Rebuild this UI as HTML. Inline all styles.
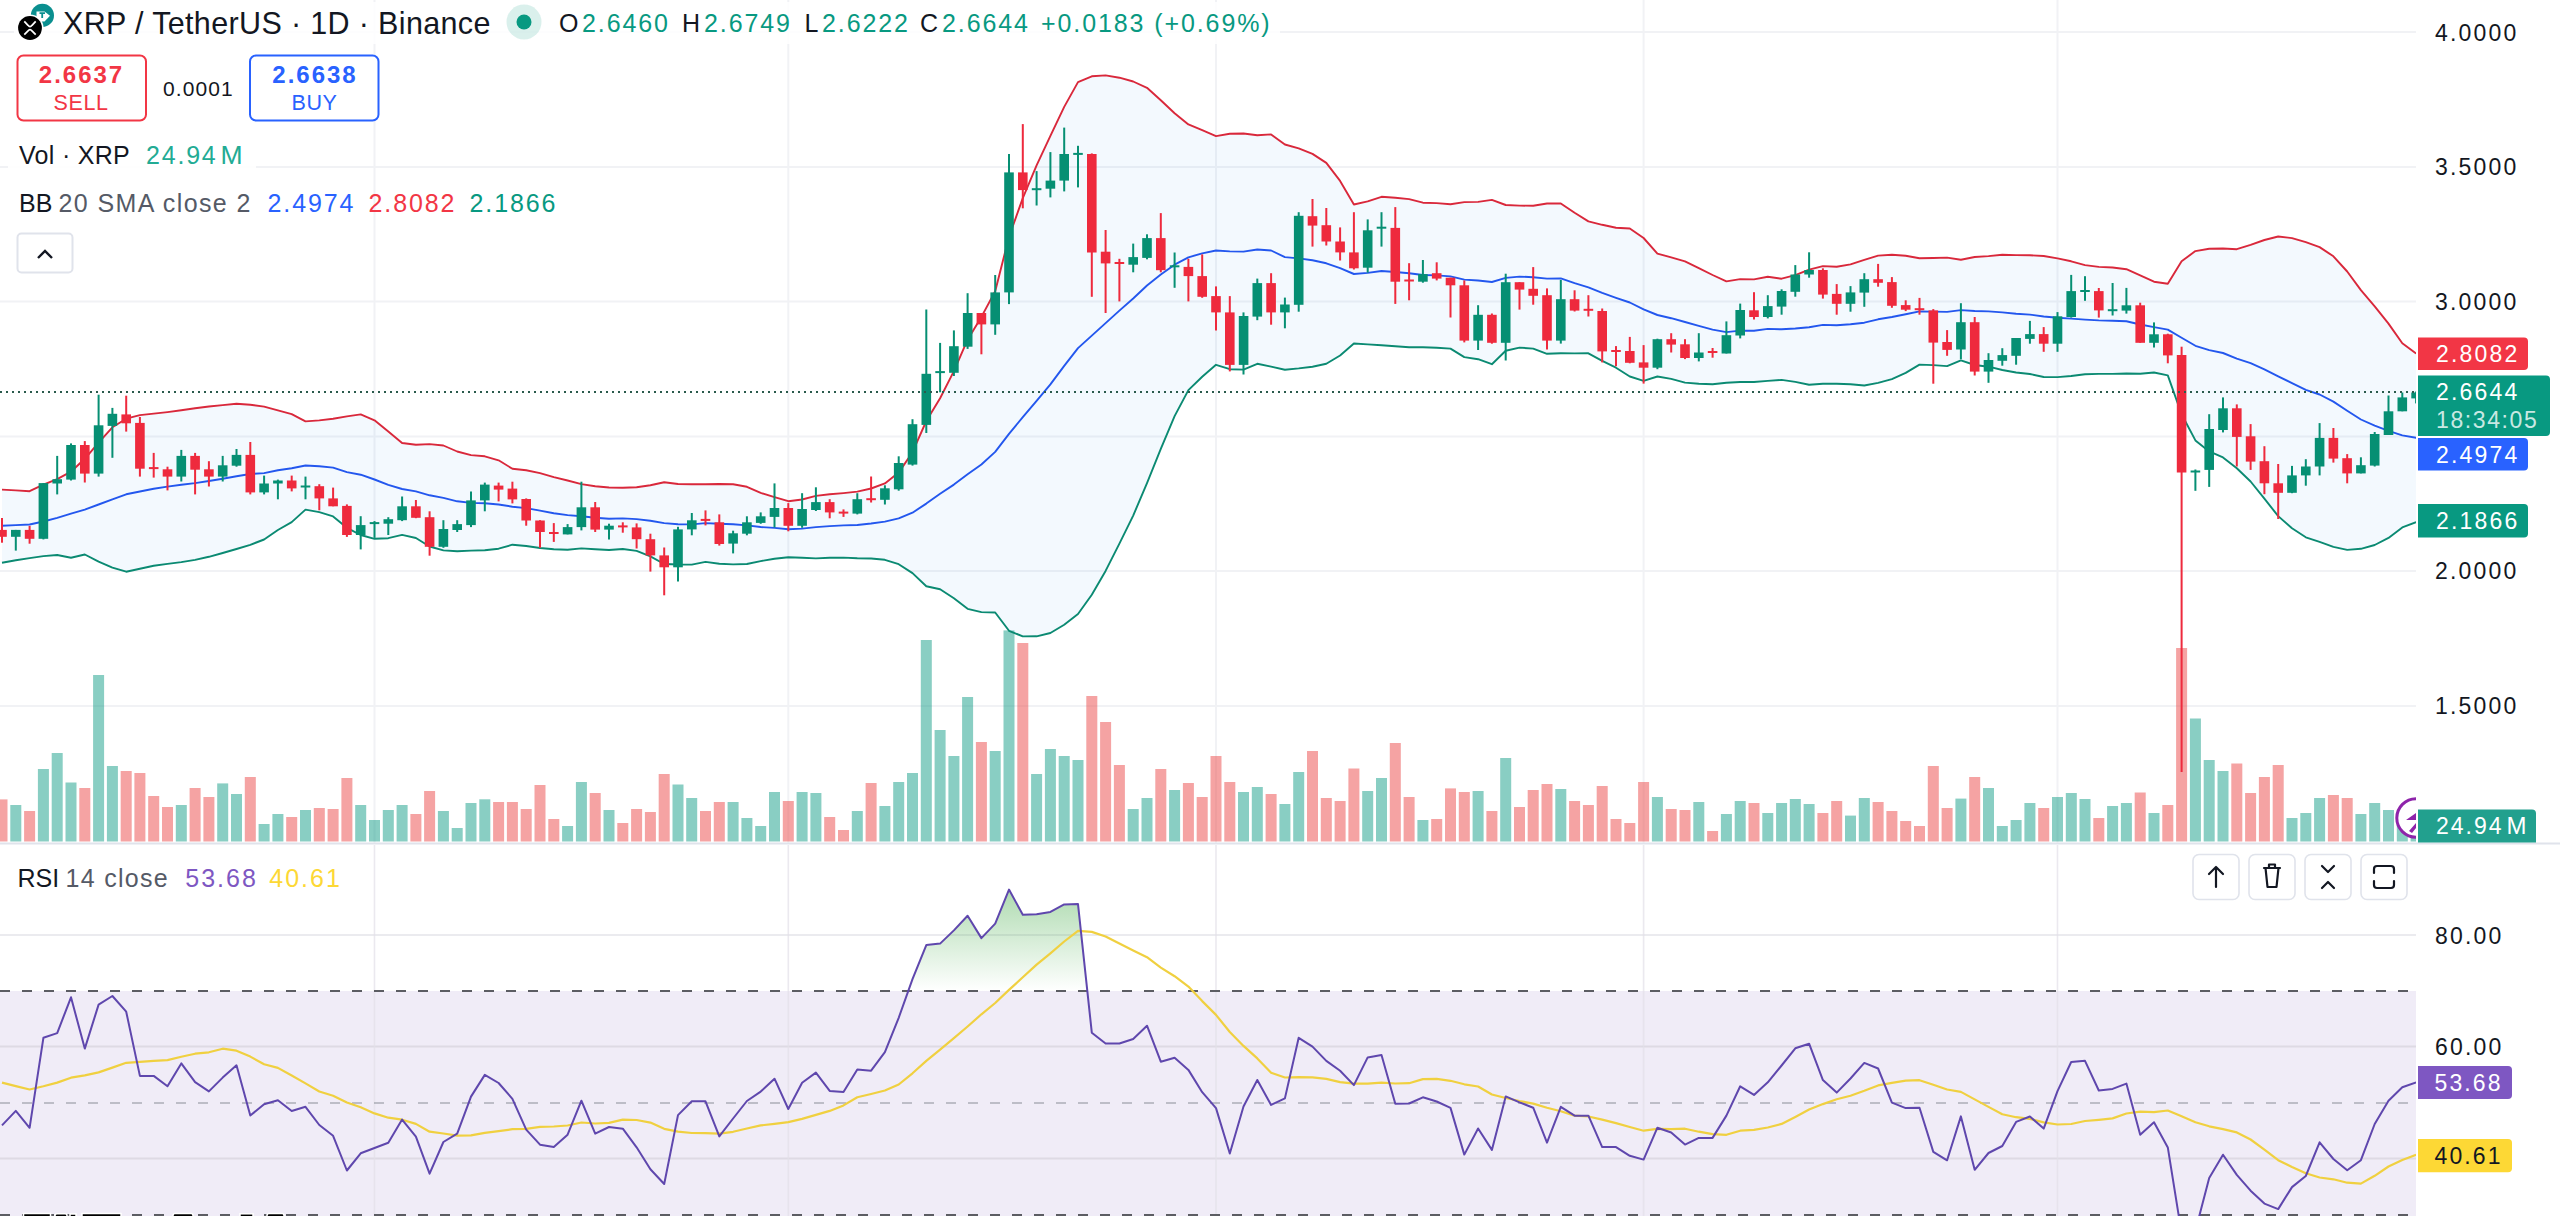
<!DOCTYPE html>
<html><head><meta charset="utf-8">
<style>
html,body{margin:0;padding:0;background:#fff;}
body{width:2560px;height:1216px;overflow:hidden;position:relative;font-family:"Liberation Sans",sans-serif;}
svg{position:absolute;left:0;top:0;font-family:"Liberation Sans",sans-serif;}
</style></head><body>
<svg width="2560" height="1216" viewBox="0 0 2560 1216">
<defs><clipPath id="mc"><rect x="0" y="0" width="2416" height="843"/></clipPath></defs>
<g clip-path="url(#mc)">
<line x1="0" y1="32" x2="2416" y2="32" stroke="#f1f2f5" stroke-width="2"/>
<line x1="0" y1="167" x2="2416" y2="167" stroke="#f1f2f5" stroke-width="2"/>
<line x1="0" y1="301.5" x2="2416" y2="301.5" stroke="#f1f2f5" stroke-width="2"/>
<line x1="0" y1="436.5" x2="2416" y2="436.5" stroke="#f1f2f5" stroke-width="2"/>
<line x1="0" y1="571" x2="2416" y2="571" stroke="#f1f2f5" stroke-width="2"/>
<line x1="0" y1="706" x2="2416" y2="706" stroke="#f1f2f5" stroke-width="2"/>
<line x1="374.5" y1="0" x2="374.5" y2="843" stroke="#f1f2f5" stroke-width="2"/>
<line x1="788.3" y1="0" x2="788.3" y2="843" stroke="#f1f2f5" stroke-width="2"/>
<line x1="1216" y1="0" x2="1216" y2="843" stroke="#f1f2f5" stroke-width="2"/>
<line x1="1643.6" y1="0" x2="1643.6" y2="843" stroke="#f1f2f5" stroke-width="2"/>
<line x1="2057.5" y1="0" x2="2057.5" y2="843" stroke="#f1f2f5" stroke-width="2"/>
<g><rect x="-3.5" y="799.4" width="11" height="42.1" fill="rgba(236,72,72,0.5)"/><rect x="10.3" y="805" width="11" height="36.5" fill="rgba(8,153,129,0.48)"/><rect x="24.1" y="811" width="11" height="30.5" fill="rgba(236,72,72,0.5)"/><rect x="37.9" y="769" width="11" height="72.5" fill="rgba(8,153,129,0.48)"/><rect x="51.7" y="753" width="11" height="88.5" fill="rgba(8,153,129,0.48)"/><rect x="65.5" y="782.5" width="11" height="59" fill="rgba(8,153,129,0.48)"/><rect x="79.3" y="788" width="11" height="53.5" fill="rgba(236,72,72,0.5)"/><rect x="93.1" y="675" width="11" height="166.5" fill="rgba(8,153,129,0.48)"/><rect x="106.9" y="766" width="11" height="75.5" fill="rgba(8,153,129,0.48)"/><rect x="120.7" y="771" width="11" height="70.5" fill="rgba(236,72,72,0.5)"/><rect x="134.4" y="773" width="11" height="68.5" fill="rgba(236,72,72,0.5)"/><rect x="148.2" y="796" width="11" height="45.5" fill="rgba(236,72,72,0.5)"/><rect x="162" y="807" width="11" height="34.5" fill="rgba(236,72,72,0.5)"/><rect x="175.8" y="805" width="11" height="36.5" fill="rgba(8,153,129,0.48)"/><rect x="189.6" y="788" width="11" height="53.5" fill="rgba(236,72,72,0.5)"/><rect x="203.4" y="797" width="11" height="44.5" fill="rgba(236,72,72,0.5)"/><rect x="217.2" y="783.4" width="11" height="58.1" fill="rgba(8,153,129,0.48)"/><rect x="231" y="794" width="11" height="47.5" fill="rgba(8,153,129,0.48)"/><rect x="244.8" y="777" width="11" height="64.5" fill="rgba(236,72,72,0.5)"/><rect x="258.6" y="824" width="11" height="17.5" fill="rgba(8,153,129,0.48)"/><rect x="272.4" y="814" width="11" height="27.5" fill="rgba(8,153,129,0.48)"/><rect x="286.2" y="817" width="11" height="24.5" fill="rgba(236,72,72,0.5)"/><rect x="300" y="810" width="11" height="31.5" fill="rgba(8,153,129,0.48)"/><rect x="313.8" y="808" width="11" height="33.5" fill="rgba(236,72,72,0.5)"/><rect x="327.6" y="809" width="11" height="32.5" fill="rgba(236,72,72,0.5)"/><rect x="341.4" y="778" width="11" height="63.5" fill="rgba(236,72,72,0.5)"/><rect x="355.2" y="805" width="11" height="36.5" fill="rgba(8,153,129,0.48)"/><rect x="369" y="820" width="11" height="21.5" fill="rgba(8,153,129,0.48)"/><rect x="382.8" y="810" width="11" height="31.5" fill="rgba(8,153,129,0.48)"/><rect x="396.6" y="805" width="11" height="36.5" fill="rgba(8,153,129,0.48)"/><rect x="410.4" y="814" width="11" height="27.5" fill="rgba(236,72,72,0.5)"/><rect x="424.1" y="791" width="11" height="50.5" fill="rgba(236,72,72,0.5)"/><rect x="437.9" y="811" width="11" height="30.5" fill="rgba(8,153,129,0.48)"/><rect x="451.7" y="828" width="11" height="13.5" fill="rgba(8,153,129,0.48)"/><rect x="465.5" y="803" width="11" height="38.5" fill="rgba(8,153,129,0.48)"/><rect x="479.3" y="799.3" width="11" height="42.2" fill="rgba(8,153,129,0.48)"/><rect x="493.1" y="802" width="11" height="39.5" fill="rgba(236,72,72,0.5)"/><rect x="506.9" y="802" width="11" height="39.5" fill="rgba(236,72,72,0.5)"/><rect x="520.7" y="809" width="11" height="32.5" fill="rgba(236,72,72,0.5)"/><rect x="534.5" y="785" width="11" height="56.5" fill="rgba(236,72,72,0.5)"/><rect x="548.3" y="819" width="11" height="22.5" fill="rgba(236,72,72,0.5)"/><rect x="562.1" y="826" width="11" height="15.5" fill="rgba(8,153,129,0.48)"/><rect x="575.9" y="782" width="11" height="59.5" fill="rgba(8,153,129,0.48)"/><rect x="589.7" y="793" width="11" height="48.5" fill="rgba(236,72,72,0.5)"/><rect x="603.5" y="810" width="11" height="31.5" fill="rgba(8,153,129,0.48)"/><rect x="617.3" y="823" width="11" height="18.5" fill="rgba(236,72,72,0.5)"/><rect x="631.1" y="809" width="11" height="32.5" fill="rgba(236,72,72,0.5)"/><rect x="644.9" y="812" width="11" height="29.5" fill="rgba(236,72,72,0.5)"/><rect x="658.7" y="774" width="11" height="67.5" fill="rgba(236,72,72,0.5)"/><rect x="672.5" y="784.5" width="11" height="57" fill="rgba(8,153,129,0.48)"/><rect x="686.2" y="798" width="11" height="43.5" fill="rgba(8,153,129,0.48)"/><rect x="700" y="811" width="11" height="30.5" fill="rgba(236,72,72,0.5)"/><rect x="713.8" y="802" width="11" height="39.5" fill="rgba(236,72,72,0.5)"/><rect x="727.6" y="802" width="11" height="39.5" fill="rgba(8,153,129,0.48)"/><rect x="741.4" y="818" width="11" height="23.5" fill="rgba(8,153,129,0.48)"/><rect x="755.2" y="826" width="11" height="15.5" fill="rgba(8,153,129,0.48)"/><rect x="769" y="792" width="11" height="49.5" fill="rgba(8,153,129,0.48)"/><rect x="782.8" y="801" width="11" height="40.5" fill="rgba(236,72,72,0.5)"/><rect x="796.6" y="792" width="11" height="49.5" fill="rgba(8,153,129,0.48)"/><rect x="810.4" y="793" width="11" height="48.5" fill="rgba(8,153,129,0.48)"/><rect x="824.2" y="817" width="11" height="24.5" fill="rgba(236,72,72,0.5)"/><rect x="838" y="830" width="11" height="11.5" fill="rgba(236,72,72,0.5)"/><rect x="851.8" y="811" width="11" height="30.5" fill="rgba(8,153,129,0.48)"/><rect x="865.6" y="783" width="11" height="58.5" fill="rgba(236,72,72,0.5)"/><rect x="879.4" y="806" width="11" height="35.5" fill="rgba(8,153,129,0.48)"/><rect x="893.2" y="782" width="11" height="59.5" fill="rgba(8,153,129,0.48)"/><rect x="907" y="773" width="11" height="68.5" fill="rgba(8,153,129,0.48)"/><rect x="920.8" y="640" width="11" height="201.5" fill="rgba(8,153,129,0.48)"/><rect x="934.6" y="730" width="11" height="111.5" fill="rgba(8,153,129,0.48)"/><rect x="948.4" y="756" width="11" height="85.5" fill="rgba(8,153,129,0.48)"/><rect x="962.1" y="697" width="11" height="144.5" fill="rgba(8,153,129,0.48)"/><rect x="975.9" y="742" width="11" height="99.5" fill="rgba(236,72,72,0.5)"/><rect x="989.7" y="751" width="11" height="90.5" fill="rgba(8,153,129,0.48)"/><rect x="1003.5" y="630.4" width="11" height="211.1" fill="rgba(8,153,129,0.48)"/><rect x="1017.3" y="643" width="11" height="198.5" fill="rgba(236,72,72,0.5)"/><rect x="1031.1" y="774" width="11" height="67.5" fill="rgba(8,153,129,0.48)"/><rect x="1044.9" y="749" width="11" height="92.5" fill="rgba(8,153,129,0.48)"/><rect x="1058.7" y="756" width="11" height="85.5" fill="rgba(8,153,129,0.48)"/><rect x="1072.5" y="760" width="11" height="81.5" fill="rgba(8,153,129,0.48)"/><rect x="1086.3" y="696" width="11" height="145.5" fill="rgba(236,72,72,0.5)"/><rect x="1100.1" y="722" width="11" height="119.5" fill="rgba(236,72,72,0.5)"/><rect x="1113.9" y="765" width="11" height="76.5" fill="rgba(236,72,72,0.5)"/><rect x="1127.7" y="809" width="11" height="32.5" fill="rgba(8,153,129,0.48)"/><rect x="1141.5" y="798" width="11" height="43.5" fill="rgba(8,153,129,0.48)"/><rect x="1155.3" y="769" width="11" height="72.5" fill="rgba(236,72,72,0.5)"/><rect x="1169.1" y="790" width="11" height="51.5" fill="rgba(8,153,129,0.48)"/><rect x="1182.9" y="783" width="11" height="58.5" fill="rgba(236,72,72,0.5)"/><rect x="1196.7" y="797" width="11" height="44.5" fill="rgba(236,72,72,0.5)"/><rect x="1210.5" y="756" width="11" height="85.5" fill="rgba(236,72,72,0.5)"/><rect x="1224.3" y="782" width="11" height="59.5" fill="rgba(236,72,72,0.5)"/><rect x="1238" y="792" width="11" height="49.5" fill="rgba(8,153,129,0.48)"/><rect x="1251.8" y="787" width="11" height="54.5" fill="rgba(8,153,129,0.48)"/><rect x="1265.6" y="794" width="11" height="47.5" fill="rgba(236,72,72,0.5)"/><rect x="1279.4" y="804" width="11" height="37.5" fill="rgba(8,153,129,0.48)"/><rect x="1293.2" y="772" width="11" height="69.5" fill="rgba(8,153,129,0.48)"/><rect x="1307" y="751" width="11" height="90.5" fill="rgba(236,72,72,0.5)"/><rect x="1320.8" y="798" width="11" height="43.5" fill="rgba(236,72,72,0.5)"/><rect x="1334.6" y="801" width="11" height="40.5" fill="rgba(236,72,72,0.5)"/><rect x="1348.4" y="768.5" width="11" height="73" fill="rgba(236,72,72,0.5)"/><rect x="1362.2" y="791" width="11" height="50.5" fill="rgba(8,153,129,0.48)"/><rect x="1376" y="778" width="11" height="63.5" fill="rgba(8,153,129,0.48)"/><rect x="1389.8" y="743" width="11" height="98.5" fill="rgba(236,72,72,0.5)"/><rect x="1403.6" y="797" width="11" height="44.5" fill="rgba(236,72,72,0.5)"/><rect x="1417.4" y="820" width="11" height="21.5" fill="rgba(8,153,129,0.48)"/><rect x="1431.2" y="819" width="11" height="22.5" fill="rgba(236,72,72,0.5)"/><rect x="1445" y="788.4" width="11" height="53.1" fill="rgba(236,72,72,0.5)"/><rect x="1458.8" y="792" width="11" height="49.5" fill="rgba(236,72,72,0.5)"/><rect x="1472.6" y="791" width="11" height="50.5" fill="rgba(8,153,129,0.48)"/><rect x="1486.4" y="811" width="11" height="30.5" fill="rgba(236,72,72,0.5)"/><rect x="1500.2" y="758" width="11" height="83.5" fill="rgba(8,153,129,0.48)"/><rect x="1514" y="807" width="11" height="34.5" fill="rgba(236,72,72,0.5)"/><rect x="1527.7" y="790" width="11" height="51.5" fill="rgba(236,72,72,0.5)"/><rect x="1541.5" y="784" width="11" height="57.5" fill="rgba(236,72,72,0.5)"/><rect x="1555.3" y="789" width="11" height="52.5" fill="rgba(8,153,129,0.48)"/><rect x="1569.1" y="801" width="11" height="40.5" fill="rgba(236,72,72,0.5)"/><rect x="1582.9" y="805" width="11" height="36.5" fill="rgba(236,72,72,0.5)"/><rect x="1596.7" y="786" width="11" height="55.5" fill="rgba(236,72,72,0.5)"/><rect x="1610.5" y="819" width="11" height="22.5" fill="rgba(236,72,72,0.5)"/><rect x="1624.3" y="823" width="11" height="18.5" fill="rgba(236,72,72,0.5)"/><rect x="1638.1" y="782" width="11" height="59.5" fill="rgba(236,72,72,0.5)"/><rect x="1651.9" y="797" width="11" height="44.5" fill="rgba(8,153,129,0.48)"/><rect x="1665.7" y="809" width="11" height="32.5" fill="rgba(236,72,72,0.5)"/><rect x="1679.5" y="810" width="11" height="31.5" fill="rgba(236,72,72,0.5)"/><rect x="1693.3" y="802" width="11" height="39.5" fill="rgba(8,153,129,0.48)"/><rect x="1707.1" y="831" width="11" height="10.5" fill="rgba(236,72,72,0.5)"/><rect x="1720.9" y="814" width="11" height="27.5" fill="rgba(8,153,129,0.48)"/><rect x="1734.7" y="801" width="11" height="40.5" fill="rgba(8,153,129,0.48)"/><rect x="1748.5" y="803" width="11" height="38.5" fill="rgba(236,72,72,0.5)"/><rect x="1762.3" y="813" width="11" height="28.5" fill="rgba(8,153,129,0.48)"/><rect x="1776.1" y="803" width="11" height="38.5" fill="rgba(8,153,129,0.48)"/><rect x="1789.8" y="799" width="11" height="42.5" fill="rgba(8,153,129,0.48)"/><rect x="1803.6" y="804" width="11" height="37.5" fill="rgba(8,153,129,0.48)"/><rect x="1817.4" y="813" width="11" height="28.5" fill="rgba(236,72,72,0.5)"/><rect x="1831.2" y="801" width="11" height="40.5" fill="rgba(236,72,72,0.5)"/><rect x="1845" y="815.6" width="11" height="25.9" fill="rgba(8,153,129,0.48)"/><rect x="1858.8" y="798" width="11" height="43.5" fill="rgba(8,153,129,0.48)"/><rect x="1872.6" y="802" width="11" height="39.5" fill="rgba(236,72,72,0.5)"/><rect x="1886.4" y="811" width="11" height="30.5" fill="rgba(236,72,72,0.5)"/><rect x="1900.2" y="821" width="11" height="20.5" fill="rgba(236,72,72,0.5)"/><rect x="1914" y="826" width="11" height="15.5" fill="rgba(236,72,72,0.5)"/><rect x="1927.8" y="766" width="11" height="75.5" fill="rgba(236,72,72,0.5)"/><rect x="1941.6" y="808" width="11" height="33.5" fill="rgba(236,72,72,0.5)"/><rect x="1955.4" y="798.6" width="11" height="42.9" fill="rgba(8,153,129,0.48)"/><rect x="1969.2" y="777" width="11" height="64.5" fill="rgba(236,72,72,0.5)"/><rect x="1983" y="788" width="11" height="53.5" fill="rgba(8,153,129,0.48)"/><rect x="1996.8" y="826" width="11" height="15.5" fill="rgba(8,153,129,0.48)"/><rect x="2010.6" y="820" width="11" height="21.5" fill="rgba(8,153,129,0.48)"/><rect x="2024.4" y="803" width="11" height="38.5" fill="rgba(8,153,129,0.48)"/><rect x="2038.2" y="808" width="11" height="33.5" fill="rgba(236,72,72,0.5)"/><rect x="2052" y="797" width="11" height="44.5" fill="rgba(8,153,129,0.48)"/><rect x="2065.8" y="793" width="11" height="48.5" fill="rgba(8,153,129,0.48)"/><rect x="2079.5" y="799" width="11" height="42.5" fill="rgba(8,153,129,0.48)"/><rect x="2093.3" y="818" width="11" height="23.5" fill="rgba(236,72,72,0.5)"/><rect x="2107.1" y="806" width="11" height="35.5" fill="rgba(8,153,129,0.48)"/><rect x="2120.9" y="803" width="11" height="38.5" fill="rgba(8,153,129,0.48)"/><rect x="2134.7" y="792.5" width="11" height="49" fill="rgba(236,72,72,0.5)"/><rect x="2148.5" y="813" width="11" height="28.5" fill="rgba(8,153,129,0.48)"/><rect x="2162.3" y="805" width="11" height="36.5" fill="rgba(236,72,72,0.5)"/><rect x="2176.1" y="648" width="11" height="193.5" fill="rgba(236,72,72,0.5)"/><rect x="2189.9" y="718.5" width="11" height="123" fill="rgba(8,153,129,0.48)"/><rect x="2203.7" y="760" width="11" height="81.5" fill="rgba(8,153,129,0.48)"/><rect x="2217.5" y="771" width="11" height="70.5" fill="rgba(8,153,129,0.48)"/><rect x="2231.3" y="763.5" width="11" height="78" fill="rgba(236,72,72,0.5)"/><rect x="2245.1" y="793" width="11" height="48.5" fill="rgba(236,72,72,0.5)"/><rect x="2258.9" y="777" width="11" height="64.5" fill="rgba(236,72,72,0.5)"/><rect x="2272.7" y="765" width="11" height="76.5" fill="rgba(236,72,72,0.5)"/><rect x="2286.5" y="818" width="11" height="23.5" fill="rgba(8,153,129,0.48)"/><rect x="2300.3" y="813" width="11" height="28.5" fill="rgba(8,153,129,0.48)"/><rect x="2314.1" y="798" width="11" height="43.5" fill="rgba(8,153,129,0.48)"/><rect x="2327.9" y="795" width="11" height="46.5" fill="rgba(236,72,72,0.5)"/><rect x="2341.7" y="798" width="11" height="43.5" fill="rgba(236,72,72,0.5)"/><rect x="2355.4" y="814" width="11" height="27.5" fill="rgba(8,153,129,0.48)"/><rect x="2369.2" y="803" width="11" height="38.5" fill="rgba(8,153,129,0.48)"/><rect x="2383" y="810" width="11" height="31.5" fill="rgba(8,153,129,0.48)"/><rect x="2396.8" y="822" width="11" height="19.5" fill="rgba(8,153,129,0.48)"/><rect x="2410.6" y="815" width="11" height="26.5" fill="rgba(8,153,129,0.48)"/></g>
<polygon points="2,489.6 15.8,490.4 29.6,491.2 43.4,484.6 57.2,479.1 71,471.7 84.8,458.8 98.6,442.7 112.4,427.3 126.2,418.7 139.9,415.1 153.7,413.6 167.5,412.1 181.3,410.3 195.1,408.2 208.9,406.5 222.7,405.1 236.5,403.8 250.3,404.7 264.1,406.6 277.9,410.4 291.7,414.2 305.5,421.4 319.3,420.4 333.1,418.8 346.9,416.4 360.7,414.4 374.5,420.3 388.3,431.5 402.1,443 415.9,444.8 429.6,444.1 443.4,445.5 457.2,451.5 471,455.1 484.8,456.3 498.6,460.3 512.4,468.7 526.2,470.3 540,473.1 553.8,477.2 567.6,480.5 581.4,484.1 595.2,486.3 609,487.5 622.8,487.7 636.6,487.2 650.4,485.2 664.2,482.2 678,484 691.8,484.2 705.5,484.2 719.3,484 733.1,484.2 746.9,486.8 760.7,492.9 774.5,497.1 788.3,501.2 802.1,499.5 815.9,495.9 829.7,494.3 843.5,493.1 857.3,491.6 871.1,488.5 884.9,483.4 898.7,472.6 912.5,452.2 926.3,421 940.1,398.2 953.9,371.1 967.6,339.7 981.4,316.9 995.2,291.2 1009,236.8 1022.8,198.1 1036.6,165.3 1050.4,135.9 1064.2,106.9 1078,82.1 1091.8,76.3 1105.6,75.4 1119.4,77.7 1133.2,81.5 1147,87.8 1160.8,100.2 1174.6,113.2 1188.4,124.4 1202.2,130.2 1216,136.1 1229.8,133.7 1243.5,133.5 1257.3,135.2 1271.1,134.4 1284.9,144.5 1298.7,148.4 1312.5,153.9 1326.3,162.9 1340.1,180.9 1353.9,204.5 1367.7,201.4 1381.5,196.8 1395.3,197.7 1409.1,199.1 1422.9,202.7 1436.7,203.1 1450.5,204.2 1464.3,202.1 1478.1,201.9 1491.9,199.9 1505.7,205 1519.5,205.6 1533.2,205.8 1547,203.5 1560.8,203.5 1574.6,212.8 1588.4,221.4 1602.2,224.8 1616,227.8 1629.8,228.5 1643.6,238 1657.4,253.6 1671.2,257.4 1685,261.4 1698.8,268.1 1712.6,275 1726.4,281.4 1740.2,279.1 1754,279.4 1767.8,276.8 1781.6,278.7 1795.3,275.2 1809.1,269.7 1822.9,266.1 1836.7,266.7 1850.5,264.4 1864.3,259.9 1878.1,255.6 1891.9,254.8 1905.7,255.8 1919.5,258.2 1933.3,258 1947.1,257.6 1960.9,259.8 1974.7,257 1988.5,256.1 2002.3,254.8 2016.1,255.1 2029.9,255.3 2043.7,256 2057.5,258.4 2071.2,261.3 2085,265.1 2098.8,266.9 2112.6,267.5 2126.4,269.2 2140.2,275.4 2154,281.7 2167.8,283.7 2181.6,261.2 2195.4,251.1 2209.2,248.7 2223,248.5 2236.8,249.2 2250.6,244.9 2264.4,240 2278.2,236.5 2292,238.1 2305.8,242.2 2319.6,247.1 2333.4,256.3 2347.2,271.5 2360.9,290.1 2374.7,306.3 2388.5,323.6 2402.3,343.3 2416.1,353.6 2416.1,522.1 2402.3,527.4 2388.5,537.9 2374.7,545 2360.9,548.8 2347.2,549.9 2333.4,546.9 2319.6,541.8 2305.8,537.3 2292,528.2 2278.2,516.1 2264.4,498.7 2250.6,481.5 2236.8,468.3 2223,457.4 2209.2,451.4 2195.4,440.4 2181.6,414.2 2167.8,375.4 2154,372.5 2140.2,373.7 2126.4,373.5 2112.6,373.9 2098.8,373.9 2085,374.2 2071.2,376 2057.5,377.1 2043.7,377 2029.9,374 2016.1,372.5 2002.3,370 1988.5,366.7 1974.7,365 1960.9,360.3 1947.1,366.1 1933.3,365.1 1919.5,364.6 1905.7,372.9 1891.9,379.1 1878.1,382.9 1864.3,385.5 1850.5,384.2 1836.7,383.7 1822.9,383.8 1809.1,384.8 1795.3,381.9 1781.6,379.9 1767.8,380.9 1754,382 1740.2,382 1726.4,382.8 1712.6,384.2 1698.8,383.7 1685,382.6 1671.2,378.9 1657.4,376.5 1643.6,380.8 1629.8,376.5 1616,367.7 1602.2,360.9 1588.4,353.3 1574.6,353.4 1560.8,353.2 1547,353.8 1533.2,348.6 1519.5,347.6 1505.7,350.8 1491.9,364.2 1478.1,359.2 1464.3,357.1 1450.5,348.6 1436.7,347.7 1422.9,347.3 1409.1,347.2 1395.3,346.2 1381.5,345.3 1367.7,344.4 1353.9,343.5 1340.1,355.5 1326.3,363.7 1312.5,366.7 1298.7,368.4 1284.9,369.7 1271.1,366.6 1257.3,363.8 1243.5,369.6 1229.8,369.2 1216,364.8 1202.2,376.7 1188.4,390.1 1174.6,416.1 1160.8,448.9 1147,483.1 1133.2,515.6 1119.4,543.6 1105.6,570.9 1091.8,594.8 1078,614 1064.2,624.8 1050.4,633 1036.6,636.3 1022.8,636.4 1009,630.8 995.2,612.5 981.4,612.1 967.6,608.8 953.9,598.2 940.1,589.3 926.3,586.2 912.5,573.1 898.7,564.2 884.9,559.8 871.1,558.5 857.3,558.3 843.5,557.6 829.7,557.8 815.9,558.4 802.1,557.8 788.3,557.2 774.5,558.7 760.7,561.1 746.9,564 733.1,564.4 719.3,563.7 705.5,561.9 691.8,564.6 678,564.5 664.2,564 650.4,556.3 636.6,550.9 622.8,549 609,550 595.2,549.3 581.4,548.4 567.6,549.8 553.8,549.3 540,548 526.2,546 512.4,544.7 498.6,548.7 484.8,550.3 471,550.6 457.2,551.2 443.4,550.4 429.6,546.5 415.9,538 402.1,534.9 388.3,538.2 374.5,538.8 360.7,535 346.9,527.8 333.1,516.4 319.3,512.1 305.5,509.6 291.7,522.1 277.9,530 264.1,539.5 250.3,544.8 236.5,549 222.7,553 208.9,556.8 195.1,559.9 181.3,562.1 167.5,563.9 153.7,565.8 139.9,568.8 126.2,571.7 112.4,567.6 98.6,561.7 84.8,554.5 71,557.7 57.2,555 43.4,556.1 29.6,558.1 15.8,560.3 2,562.7" fill="#2196f3" fill-opacity="0.055"/>
<polyline points="2,489.6 15.8,490.4 29.6,491.2 43.4,484.6 57.2,479.1 71,471.7 84.8,458.8 98.6,442.7 112.4,427.3 126.2,418.7 139.9,415.1 153.7,413.6 167.5,412.1 181.3,410.3 195.1,408.2 208.9,406.5 222.7,405.1 236.5,403.8 250.3,404.7 264.1,406.6 277.9,410.4 291.7,414.2 305.5,421.4 319.3,420.4 333.1,418.8 346.9,416.4 360.7,414.4 374.5,420.3 388.3,431.5 402.1,443 415.9,444.8 429.6,444.1 443.4,445.5 457.2,451.5 471,455.1 484.8,456.3 498.6,460.3 512.4,468.7 526.2,470.3 540,473.1 553.8,477.2 567.6,480.5 581.4,484.1 595.2,486.3 609,487.5 622.8,487.7 636.6,487.2 650.4,485.2 664.2,482.2 678,484 691.8,484.2 705.5,484.2 719.3,484 733.1,484.2 746.9,486.8 760.7,492.9 774.5,497.1 788.3,501.2 802.1,499.5 815.9,495.9 829.7,494.3 843.5,493.1 857.3,491.6 871.1,488.5 884.9,483.4 898.7,472.6 912.5,452.2 926.3,421 940.1,398.2 953.9,371.1 967.6,339.7 981.4,316.9 995.2,291.2 1009,236.8 1022.8,198.1 1036.6,165.3 1050.4,135.9 1064.2,106.9 1078,82.1 1091.8,76.3 1105.6,75.4 1119.4,77.7 1133.2,81.5 1147,87.8 1160.8,100.2 1174.6,113.2 1188.4,124.4 1202.2,130.2 1216,136.1 1229.8,133.7 1243.5,133.5 1257.3,135.2 1271.1,134.4 1284.9,144.5 1298.7,148.4 1312.5,153.9 1326.3,162.9 1340.1,180.9 1353.9,204.5 1367.7,201.4 1381.5,196.8 1395.3,197.7 1409.1,199.1 1422.9,202.7 1436.7,203.1 1450.5,204.2 1464.3,202.1 1478.1,201.9 1491.9,199.9 1505.7,205 1519.5,205.6 1533.2,205.8 1547,203.5 1560.8,203.5 1574.6,212.8 1588.4,221.4 1602.2,224.8 1616,227.8 1629.8,228.5 1643.6,238 1657.4,253.6 1671.2,257.4 1685,261.4 1698.8,268.1 1712.6,275 1726.4,281.4 1740.2,279.1 1754,279.4 1767.8,276.8 1781.6,278.7 1795.3,275.2 1809.1,269.7 1822.9,266.1 1836.7,266.7 1850.5,264.4 1864.3,259.9 1878.1,255.6 1891.9,254.8 1905.7,255.8 1919.5,258.2 1933.3,258 1947.1,257.6 1960.9,259.8 1974.7,257 1988.5,256.1 2002.3,254.8 2016.1,255.1 2029.9,255.3 2043.7,256 2057.5,258.4 2071.2,261.3 2085,265.1 2098.8,266.9 2112.6,267.5 2126.4,269.2 2140.2,275.4 2154,281.7 2167.8,283.7 2181.6,261.2 2195.4,251.1 2209.2,248.7 2223,248.5 2236.8,249.2 2250.6,244.9 2264.4,240 2278.2,236.5 2292,238.1 2305.8,242.2 2319.6,247.1 2333.4,256.3 2347.2,271.5 2360.9,290.1 2374.7,306.3 2388.5,323.6 2402.3,343.3 2416.1,353.6" fill="none" stroke="#d9283b" stroke-width="1.9" stroke-linejoin="round"/>
<polyline points="2,525.7 15.8,525.1 29.6,524.5 43.4,521.5 57.2,517.8 71,513.7 84.8,509.6 98.6,504.5 112.4,499.3 126.2,494.3 139.9,491.5 153.7,488.8 167.5,486.6 181.3,484.8 195.1,483.1 208.9,481 222.7,478.7 236.5,476.3 250.3,474 264.1,473.1 277.9,470.2 291.7,468.2 305.5,465.5 319.3,466.3 333.1,467.6 346.9,472.1 360.7,474.7 374.5,479.5 388.3,484.8 402.1,489 415.9,491.4 429.6,495.3 443.4,497.9 457.2,501.3 471,502.9 484.8,503.3 498.6,504.5 512.4,506.7 526.2,508.1 540,510.6 553.8,513.2 567.6,515.1 581.4,516.2 595.2,517.8 609,518.8 622.8,518.4 636.6,519.1 650.4,520.7 664.2,523.1 678,524.3 691.8,524.4 705.5,523.1 719.3,523.8 733.1,524.3 746.9,525.4 760.7,527 774.5,527.9 788.3,529.2 802.1,528.6 815.9,527.1 829.7,526.1 843.5,525.4 857.3,525 871.1,523.5 884.9,521.6 898.7,518.4 912.5,512.7 926.3,503.6 940.1,493.8 953.9,484.6 967.6,474.3 981.4,464.5 995.2,451.9 1009,433.8 1022.8,417.2 1036.6,400.8 1050.4,384.4 1064.2,365.9 1078,348.1 1091.8,335.6 1105.6,323.1 1119.4,310.6 1133.2,298.5 1147,285.5 1160.8,274.6 1174.6,264.7 1188.4,257.3 1202.2,253.4 1216,250.5 1229.8,251.4 1243.5,251.6 1257.3,249.5 1271.1,250.5 1284.9,257.1 1298.7,258.4 1312.5,260.3 1326.3,263.3 1340.1,268.2 1353.9,274 1367.7,272.9 1381.5,271 1395.3,272 1409.1,273.2 1422.9,275 1436.7,275.4 1450.5,276.4 1464.3,279.6 1478.1,280.5 1491.9,282 1505.7,277.9 1519.5,276.6 1533.2,277.2 1547,278.6 1560.8,278.4 1574.6,283.1 1588.4,287.4 1602.2,292.8 1616,297.8 1629.8,302.5 1643.6,309.4 1657.4,315 1671.2,318.2 1685,322 1698.8,325.9 1712.6,329.6 1726.4,332.1 1740.2,330.6 1754,330.7 1767.8,328.9 1781.6,329.3 1795.3,328.5 1809.1,327.2 1822.9,324.9 1836.7,325.2 1850.5,324.3 1864.3,322.7 1878.1,319.3 1891.9,317 1905.7,314.3 1919.5,311.4 1933.3,311.6 1947.1,311.9 1960.9,310.1 1974.7,311 1988.5,311.4 2002.3,312.4 2016.1,313.8 2029.9,314.6 2043.7,316.5 2057.5,317.8 2071.2,318.6 2085,319.6 2098.8,320.4 2112.6,320.7 2126.4,321.3 2140.2,324.5 2154,327.1 2167.8,329.6 2181.6,337.7 2195.4,345.8 2209.2,350.1 2223,353 2236.8,358.7 2250.6,363.2 2264.4,369.4 2278.2,376.3 2292,383.1 2305.8,389.8 2319.6,394.5 2333.4,401.6 2347.2,410.7 2360.9,419.5 2374.7,425.6 2388.5,430.8 2402.3,435.4 2416.1,437.8" fill="none" stroke="#2357ee" stroke-width="1.9" stroke-linejoin="round"/>
<polyline points="2,562.7 15.8,560.3 29.6,558.1 43.4,556.1 57.2,555 71,557.7 84.8,554.5 98.6,561.7 112.4,567.6 126.2,571.7 139.9,568.8 153.7,565.8 167.5,563.9 181.3,562.1 195.1,559.9 208.9,556.8 222.7,553 236.5,549 250.3,544.8 264.1,539.5 277.9,530 291.7,522.1 305.5,509.6 319.3,512.1 333.1,516.4 346.9,527.8 360.7,535 374.5,538.8 388.3,538.2 402.1,534.9 415.9,538 429.6,546.5 443.4,550.4 457.2,551.2 471,550.6 484.8,550.3 498.6,548.7 512.4,544.7 526.2,546 540,548 553.8,549.3 567.6,549.8 581.4,548.4 595.2,549.3 609,550 622.8,549 636.6,550.9 650.4,556.3 664.2,564 678,564.5 691.8,564.6 705.5,561.9 719.3,563.7 733.1,564.4 746.9,564 760.7,561.1 774.5,558.7 788.3,557.2 802.1,557.8 815.9,558.4 829.7,557.8 843.5,557.6 857.3,558.3 871.1,558.5 884.9,559.8 898.7,564.2 912.5,573.1 926.3,586.2 940.1,589.3 953.9,598.2 967.6,608.8 981.4,612.1 995.2,612.5 1009,630.8 1022.8,636.4 1036.6,636.3 1050.4,633 1064.2,624.8 1078,614 1091.8,594.8 1105.6,570.9 1119.4,543.6 1133.2,515.6 1147,483.1 1160.8,448.9 1174.6,416.1 1188.4,390.1 1202.2,376.7 1216,364.8 1229.8,369.2 1243.5,369.6 1257.3,363.8 1271.1,366.6 1284.9,369.7 1298.7,368.4 1312.5,366.7 1326.3,363.7 1340.1,355.5 1353.9,343.5 1367.7,344.4 1381.5,345.3 1395.3,346.2 1409.1,347.2 1422.9,347.3 1436.7,347.7 1450.5,348.6 1464.3,357.1 1478.1,359.2 1491.9,364.2 1505.7,350.8 1519.5,347.6 1533.2,348.6 1547,353.8 1560.8,353.2 1574.6,353.4 1588.4,353.3 1602.2,360.9 1616,367.7 1629.8,376.5 1643.6,380.8 1657.4,376.5 1671.2,378.9 1685,382.6 1698.8,383.7 1712.6,384.2 1726.4,382.8 1740.2,382 1754,382 1767.8,380.9 1781.6,379.9 1795.3,381.9 1809.1,384.8 1822.9,383.8 1836.7,383.7 1850.5,384.2 1864.3,385.5 1878.1,382.9 1891.9,379.1 1905.7,372.9 1919.5,364.6 1933.3,365.1 1947.1,366.1 1960.9,360.3 1974.7,365 1988.5,366.7 2002.3,370 2016.1,372.5 2029.9,374 2043.7,377 2057.5,377.1 2071.2,376 2085,374.2 2098.8,373.9 2112.6,373.9 2126.4,373.5 2140.2,373.7 2154,372.5 2167.8,375.4 2181.6,414.2 2195.4,440.4 2209.2,451.4 2223,457.4 2236.8,468.3 2250.6,481.5 2264.4,498.7 2278.2,516.1 2292,528.2 2305.8,537.3 2319.6,541.8 2333.4,546.9 2347.2,549.9 2360.9,548.8 2374.7,545 2388.5,537.9 2402.3,527.4 2416.1,522.1" fill="none" stroke="#0b8a72" stroke-width="1.9" stroke-linejoin="round"/>
<g><rect x="1" y="518" width="2" height="24.7" fill="#ee2a3d"/><rect x="-2.8" y="529.9" width="9.6" height="6.9" fill="#ee2a3d"/><rect x="14.8" y="529.9" width="2" height="20.7" fill="#068f73"/><rect x="11" y="529.9" width="9.6" height="6.9" fill="#068f73"/><rect x="28.6" y="525.9" width="2" height="17.8" fill="#ee2a3d"/><rect x="24.8" y="529.9" width="9.6" height="8.9" fill="#ee2a3d"/><rect x="42.4" y="483.1" width="2" height="56.3" fill="#068f73"/><rect x="38.6" y="483.1" width="9.6" height="55.7" fill="#068f73"/><rect x="56.2" y="455.9" width="2" height="38.5" fill="#068f73"/><rect x="52.4" y="479.2" width="9.6" height="4.3" fill="#068f73"/><rect x="70" y="443.4" width="2" height="37.1" fill="#068f73"/><rect x="66.2" y="445" width="9.6" height="34.6" fill="#068f73"/><rect x="83.8" y="441.1" width="2" height="41.4" fill="#ee2a3d"/><rect x="80" y="445" width="9.6" height="28.6" fill="#ee2a3d"/><rect x="97.6" y="394.7" width="2" height="81.9" fill="#068f73"/><rect x="93.8" y="425.3" width="9.6" height="48.3" fill="#068f73"/><rect x="111.4" y="407.9" width="2" height="49.9" fill="#068f73"/><rect x="107.6" y="413.8" width="9.6" height="12.1" fill="#068f73"/><rect x="125.2" y="395.7" width="2" height="35.9" fill="#ee2a3d"/><rect x="121.4" y="414.4" width="9.6" height="8.9" fill="#ee2a3d"/><rect x="138.9" y="417" width="2" height="59.6" fill="#ee2a3d"/><rect x="135.1" y="422.9" width="9.6" height="45.8" fill="#ee2a3d"/><rect x="152.7" y="452.9" width="2" height="24.7" fill="#ee2a3d"/><rect x="148.9" y="467.1" width="9.6" height="2" fill="#ee2a3d"/><rect x="166.5" y="466.7" width="2" height="23.7" fill="#ee2a3d"/><rect x="162.7" y="469.3" width="9.6" height="7.3" fill="#ee2a3d"/><rect x="180.3" y="449.9" width="2" height="31.6" fill="#068f73"/><rect x="176.5" y="455.9" width="9.6" height="20.7" fill="#068f73"/><rect x="194.1" y="452.9" width="2" height="41.5" fill="#ee2a3d"/><rect x="190.3" y="455.9" width="9.6" height="13.8" fill="#ee2a3d"/><rect x="207.9" y="461.2" width="2" height="25.3" fill="#ee2a3d"/><rect x="204.1" y="469.3" width="9.6" height="7.3" fill="#ee2a3d"/><rect x="221.7" y="455.9" width="2" height="25.6" fill="#068f73"/><rect x="217.9" y="465.3" width="9.6" height="11.3" fill="#068f73"/><rect x="235.5" y="449" width="2" height="17.7" fill="#068f73"/><rect x="231.7" y="454.9" width="9.6" height="10.8" fill="#068f73"/><rect x="249.3" y="442" width="2" height="52.4" fill="#ee2a3d"/><rect x="245.5" y="454.9" width="9.6" height="37.5" fill="#ee2a3d"/><rect x="263.1" y="475.6" width="2" height="18.8" fill="#068f73"/><rect x="259.3" y="483.5" width="9.6" height="8.9" fill="#068f73"/><rect x="276.9" y="479.6" width="2" height="19.7" fill="#068f73"/><rect x="273.1" y="480.5" width="9.6" height="3" fill="#068f73"/><rect x="290.7" y="475.6" width="2" height="15.8" fill="#ee2a3d"/><rect x="286.9" y="480.5" width="9.6" height="7.9" fill="#ee2a3d"/><rect x="304.5" y="476.6" width="2" height="22.7" fill="#068f73"/><rect x="300.7" y="485.5" width="9.6" height="2" fill="#068f73"/><rect x="318.3" y="484.2" width="2" height="26.1" fill="#ee2a3d"/><rect x="314.5" y="486.2" width="9.6" height="12.2" fill="#ee2a3d"/><rect x="332.1" y="487.6" width="2" height="18.7" fill="#ee2a3d"/><rect x="328.3" y="498.4" width="9.6" height="7.9" fill="#ee2a3d"/><rect x="345.9" y="504.4" width="2" height="32.5" fill="#ee2a3d"/><rect x="342.1" y="505.9" width="9.6" height="29.1" fill="#ee2a3d"/><rect x="359.7" y="516.2" width="2" height="33.2" fill="#068f73"/><rect x="355.9" y="525.1" width="9.6" height="9.9" fill="#068f73"/><rect x="373.5" y="521.1" width="2" height="16.8" fill="#068f73"/><rect x="369.7" y="522.1" width="9.6" height="2" fill="#068f73"/><rect x="387.3" y="517.2" width="2" height="17.8" fill="#068f73"/><rect x="383.5" y="519.2" width="9.6" height="4.5" fill="#068f73"/><rect x="401.1" y="496.5" width="2" height="24.6" fill="#068f73"/><rect x="397.3" y="506.3" width="9.6" height="13.9" fill="#068f73"/><rect x="414.9" y="500" width="2" height="18.2" fill="#ee2a3d"/><rect x="411.1" y="506.3" width="9.6" height="11.5" fill="#ee2a3d"/><rect x="428.6" y="511.3" width="2" height="44.4" fill="#ee2a3d"/><rect x="424.8" y="517.2" width="9.6" height="29.6" fill="#ee2a3d"/><rect x="442.4" y="520.2" width="2" height="27.6" fill="#068f73"/><rect x="438.6" y="529" width="9.6" height="17.8" fill="#068f73"/><rect x="456.2" y="520.2" width="2" height="11.8" fill="#068f73"/><rect x="452.4" y="524.1" width="9.6" height="5.9" fill="#068f73"/><rect x="470" y="491.5" width="2" height="35.6" fill="#068f73"/><rect x="466.2" y="500.4" width="9.6" height="24.7" fill="#068f73"/><rect x="483.8" y="482.6" width="2" height="28.7" fill="#068f73"/><rect x="480" y="484.6" width="9.6" height="15.8" fill="#068f73"/><rect x="497.6" y="482.6" width="2" height="18.8" fill="#ee2a3d"/><rect x="493.8" y="485.6" width="9.6" height="4" fill="#ee2a3d"/><rect x="511.4" y="481.7" width="2" height="21.7" fill="#ee2a3d"/><rect x="507.6" y="488.6" width="9.6" height="10.8" fill="#ee2a3d"/><rect x="525.2" y="498.4" width="2" height="27.3" fill="#ee2a3d"/><rect x="521.4" y="499" width="9.6" height="21.5" fill="#ee2a3d"/><rect x="539" y="520.2" width="2" height="27.6" fill="#ee2a3d"/><rect x="535.2" y="520.5" width="9.6" height="11.5" fill="#ee2a3d"/><rect x="552.8" y="523.1" width="2" height="18.8" fill="#ee2a3d"/><rect x="549" y="532" width="9.6" height="2" fill="#ee2a3d"/><rect x="566.6" y="524.1" width="2" height="10.3" fill="#068f73"/><rect x="562.8" y="527.1" width="9.6" height="7.3" fill="#068f73"/><rect x="580.4" y="481.7" width="2" height="48.7" fill="#068f73"/><rect x="576.6" y="507.3" width="9.6" height="19.8" fill="#068f73"/><rect x="594.2" y="502" width="2" height="30" fill="#ee2a3d"/><rect x="590.4" y="507.3" width="9.6" height="22.3" fill="#ee2a3d"/><rect x="608" y="523.7" width="2" height="15.8" fill="#068f73"/><rect x="604.2" y="525.7" width="9.6" height="3.9" fill="#068f73"/><rect x="621.8" y="522.3" width="2" height="10.4" fill="#ee2a3d"/><rect x="618" y="525.4" width="9.6" height="2" fill="#ee2a3d"/><rect x="635.6" y="523.4" width="2" height="25.1" fill="#ee2a3d"/><rect x="631.8" y="527.4" width="9.6" height="11.8" fill="#ee2a3d"/><rect x="649.4" y="533.7" width="2" height="37.9" fill="#ee2a3d"/><rect x="645.6" y="539.2" width="9.6" height="16.2" fill="#ee2a3d"/><rect x="663.2" y="547.5" width="2" height="47.8" fill="#ee2a3d"/><rect x="659.4" y="555.4" width="9.6" height="11.9" fill="#ee2a3d"/><rect x="677" y="526.8" width="2" height="54.7" fill="#068f73"/><rect x="673.2" y="529.4" width="9.6" height="37.9" fill="#068f73"/><rect x="690.8" y="513" width="2" height="22.3" fill="#068f73"/><rect x="687" y="520.3" width="9.6" height="9.1" fill="#068f73"/><rect x="704.5" y="510.4" width="2" height="15" fill="#ee2a3d"/><rect x="700.7" y="518.9" width="9.6" height="2" fill="#ee2a3d"/><rect x="718.3" y="514.4" width="2" height="31.2" fill="#ee2a3d"/><rect x="714.5" y="522.3" width="9.6" height="21.7" fill="#ee2a3d"/><rect x="732.1" y="530.7" width="2" height="22.7" fill="#068f73"/><rect x="728.3" y="533.3" width="9.6" height="10.3" fill="#068f73"/><rect x="745.9" y="516.3" width="2" height="19" fill="#068f73"/><rect x="742.1" y="522.3" width="9.6" height="11.4" fill="#068f73"/><rect x="759.7" y="512.4" width="2" height="11.4" fill="#068f73"/><rect x="755.9" y="516.3" width="9.6" height="6.6" fill="#068f73"/><rect x="773.5" y="483.4" width="2" height="44" fill="#068f73"/><rect x="769.7" y="508" width="9.6" height="8.9" fill="#068f73"/><rect x="787.3" y="503.1" width="2" height="28.2" fill="#ee2a3d"/><rect x="783.5" y="508" width="9.6" height="17.8" fill="#ee2a3d"/><rect x="801.1" y="493.2" width="2" height="34.6" fill="#068f73"/><rect x="797.3" y="509" width="9.6" height="16.8" fill="#068f73"/><rect x="814.9" y="487.3" width="2" height="23.7" fill="#068f73"/><rect x="811.1" y="502.1" width="9.6" height="7.9" fill="#068f73"/><rect x="828.7" y="499.2" width="2" height="19.1" fill="#ee2a3d"/><rect x="824.9" y="502.1" width="9.6" height="10.3" fill="#ee2a3d"/><rect x="842.5" y="509.4" width="2" height="7.5" fill="#ee2a3d"/><rect x="838.7" y="511.6" width="9.6" height="2" fill="#ee2a3d"/><rect x="856.3" y="493.2" width="2" height="21.2" fill="#068f73"/><rect x="852.5" y="499.2" width="9.6" height="14.4" fill="#068f73"/><rect x="870.1" y="476.5" width="2" height="26" fill="#ee2a3d"/><rect x="866.3" y="498.2" width="9.6" height="2" fill="#ee2a3d"/><rect x="883.9" y="485.3" width="2" height="19.2" fill="#068f73"/><rect x="880.1" y="488.3" width="9.6" height="11.5" fill="#068f73"/><rect x="897.7" y="456.3" width="2" height="34.4" fill="#068f73"/><rect x="893.9" y="463" width="9.6" height="26.3" fill="#068f73"/><rect x="911.5" y="419.2" width="2" height="46.4" fill="#068f73"/><rect x="907.7" y="424.2" width="9.6" height="40.4" fill="#068f73"/><rect x="925.3" y="309.5" width="2" height="123.5" fill="#068f73"/><rect x="921.5" y="373.8" width="9.6" height="51.1" fill="#068f73"/><rect x="939.1" y="342.9" width="2" height="49.4" fill="#068f73"/><rect x="935.3" y="371.1" width="9.6" height="2" fill="#068f73"/><rect x="952.9" y="330.4" width="2" height="45.6" fill="#068f73"/><rect x="949.1" y="346.2" width="9.6" height="26.6" fill="#068f73"/><rect x="966.6" y="293.2" width="2" height="55.7" fill="#068f73"/><rect x="962.9" y="313" width="9.6" height="33.7" fill="#068f73"/><rect x="980.4" y="313" width="2" height="41.3" fill="#ee2a3d"/><rect x="976.6" y="313" width="9.6" height="11.4" fill="#ee2a3d"/><rect x="994.2" y="275" width="2" height="59.8" fill="#068f73"/><rect x="990.4" y="292.4" width="9.6" height="32" fill="#068f73"/><rect x="1008" y="154" width="2" height="150.1" fill="#068f73"/><rect x="1004.2" y="172.4" width="9.6" height="120" fill="#068f73"/><rect x="1021.8" y="124.1" width="2" height="84.2" fill="#ee2a3d"/><rect x="1018" y="172.4" width="9.6" height="17.7" fill="#ee2a3d"/><rect x="1035.6" y="171.1" width="2" height="34.4" fill="#068f73"/><rect x="1031.8" y="188.2" width="9.6" height="2" fill="#068f73"/><rect x="1049.4" y="152.1" width="2" height="45.3" fill="#068f73"/><rect x="1045.6" y="180.6" width="9.6" height="8.1" fill="#068f73"/><rect x="1063.2" y="127.6" width="2" height="63.8" fill="#068f73"/><rect x="1059.4" y="154" width="9.6" height="26.6" fill="#068f73"/><rect x="1077" y="145.8" width="2" height="41.6" fill="#068f73"/><rect x="1073.2" y="152.9" width="9.6" height="2" fill="#068f73"/><rect x="1090.8" y="153.4" width="2" height="143.4" fill="#ee2a3d"/><rect x="1087" y="154" width="9.6" height="98.5" fill="#ee2a3d"/><rect x="1104.6" y="230" width="2" height="83" fill="#ee2a3d"/><rect x="1100.8" y="251.7" width="9.6" height="11.7" fill="#ee2a3d"/><rect x="1118.4" y="258.8" width="2" height="42.6" fill="#ee2a3d"/><rect x="1114.6" y="262" width="9.6" height="2" fill="#ee2a3d"/><rect x="1132.2" y="243.6" width="2" height="28.7" fill="#068f73"/><rect x="1128.4" y="257.1" width="9.6" height="7.6" fill="#068f73"/><rect x="1146" y="234.3" width="2" height="25" fill="#068f73"/><rect x="1142.2" y="238.1" width="9.6" height="19.8" fill="#068f73"/><rect x="1159.8" y="213.1" width="2" height="59.2" fill="#ee2a3d"/><rect x="1156" y="238.1" width="9.6" height="32.1" fill="#ee2a3d"/><rect x="1173.6" y="252.5" width="2" height="35.3" fill="#068f73"/><rect x="1169.8" y="265.3" width="9.6" height="2" fill="#068f73"/><rect x="1187.4" y="258.8" width="2" height="42.6" fill="#ee2a3d"/><rect x="1183.6" y="266.9" width="9.6" height="9.2" fill="#ee2a3d"/><rect x="1201.2" y="254.4" width="2" height="43.4" fill="#ee2a3d"/><rect x="1197.4" y="276.1" width="9.6" height="20.7" fill="#ee2a3d"/><rect x="1215" y="286.4" width="2" height="44.1" fill="#ee2a3d"/><rect x="1211.2" y="296.1" width="9.6" height="16.3" fill="#ee2a3d"/><rect x="1228.8" y="296.1" width="2" height="75.3" fill="#ee2a3d"/><rect x="1225" y="312.4" width="9.6" height="52.5" fill="#ee2a3d"/><rect x="1242.5" y="312.4" width="2" height="62.1" fill="#068f73"/><rect x="1238.8" y="316" width="9.6" height="48.9" fill="#068f73"/><rect x="1256.3" y="278.6" width="2" height="41.6" fill="#068f73"/><rect x="1252.5" y="283.1" width="9.6" height="33.5" fill="#068f73"/><rect x="1270.1" y="273.2" width="2" height="51.5" fill="#ee2a3d"/><rect x="1266.3" y="283.1" width="9.6" height="29.3" fill="#ee2a3d"/><rect x="1283.9" y="297.6" width="2" height="30.7" fill="#068f73"/><rect x="1280.1" y="304.5" width="9.6" height="7.9" fill="#068f73"/><rect x="1297.7" y="212.2" width="2" height="99.5" fill="#068f73"/><rect x="1293.9" y="215.8" width="9.6" height="89" fill="#068f73"/><rect x="1311.5" y="199" width="2" height="47.6" fill="#ee2a3d"/><rect x="1307.7" y="216.2" width="9.6" height="9.4" fill="#ee2a3d"/><rect x="1325.3" y="208" width="2" height="37.5" fill="#ee2a3d"/><rect x="1321.5" y="225.2" width="9.6" height="16.3" fill="#ee2a3d"/><rect x="1339.1" y="227.4" width="2" height="33.1" fill="#ee2a3d"/><rect x="1335.3" y="241.5" width="9.6" height="10.9" fill="#ee2a3d"/><rect x="1352.9" y="212.2" width="2" height="57.3" fill="#ee2a3d"/><rect x="1349.1" y="252.4" width="9.6" height="15.9" fill="#ee2a3d"/><rect x="1366.7" y="219.4" width="2" height="53.2" fill="#068f73"/><rect x="1362.9" y="230.3" width="9.6" height="37.4" fill="#068f73"/><rect x="1380.5" y="212.2" width="2" height="34.4" fill="#068f73"/><rect x="1376.7" y="226.7" width="9.6" height="2" fill="#068f73"/><rect x="1394.3" y="207.1" width="2" height="96.8" fill="#ee2a3d"/><rect x="1390.5" y="227.9" width="9.6" height="53.8" fill="#ee2a3d"/><rect x="1408.1" y="263.2" width="2" height="37.1" fill="#ee2a3d"/><rect x="1404.3" y="279.5" width="9.6" height="2" fill="#ee2a3d"/><rect x="1421.9" y="260" width="2" height="22.7" fill="#068f73"/><rect x="1418.1" y="274.1" width="9.6" height="7.6" fill="#068f73"/><rect x="1435.7" y="262.3" width="2" height="18.1" fill="#ee2a3d"/><rect x="1431.9" y="273.2" width="9.6" height="5.4" fill="#ee2a3d"/><rect x="1449.5" y="277.7" width="2" height="39.8" fill="#ee2a3d"/><rect x="1445.7" y="277.7" width="9.6" height="7.6" fill="#ee2a3d"/><rect x="1463.3" y="280.4" width="2" height="62" fill="#ee2a3d"/><rect x="1459.5" y="285.3" width="9.6" height="55.3" fill="#ee2a3d"/><rect x="1477.1" y="305.2" width="2" height="44.8" fill="#068f73"/><rect x="1473.3" y="314.8" width="9.6" height="25.8" fill="#068f73"/><rect x="1490.9" y="313.5" width="2" height="30.2" fill="#ee2a3d"/><rect x="1487.1" y="314.8" width="9.6" height="28" fill="#ee2a3d"/><rect x="1504.7" y="273.7" width="2" height="86.8" fill="#068f73"/><rect x="1500.9" y="282.2" width="9.6" height="60.6" fill="#068f73"/><rect x="1518.5" y="282.2" width="2" height="27.4" fill="#ee2a3d"/><rect x="1514.7" y="282.2" width="9.6" height="7.4" fill="#ee2a3d"/><rect x="1532.2" y="267.1" width="2" height="37.6" fill="#ee2a3d"/><rect x="1528.4" y="288.8" width="9.6" height="7" fill="#ee2a3d"/><rect x="1546" y="288.4" width="2" height="61.1" fill="#ee2a3d"/><rect x="1542.2" y="295.2" width="9.6" height="45.4" fill="#ee2a3d"/><rect x="1559.8" y="279.9" width="2" height="63.7" fill="#068f73"/><rect x="1556" y="299.2" width="9.6" height="41.4" fill="#068f73"/><rect x="1573.6" y="290.3" width="2" height="21.2" fill="#ee2a3d"/><rect x="1569.8" y="299.2" width="9.6" height="11.4" fill="#ee2a3d"/><rect x="1587.4" y="295.2" width="2" height="21.3" fill="#ee2a3d"/><rect x="1583.6" y="308.8" width="9.6" height="2" fill="#ee2a3d"/><rect x="1601.2" y="308.5" width="2" height="53.9" fill="#ee2a3d"/><rect x="1597.4" y="311" width="9.6" height="40.4" fill="#ee2a3d"/><rect x="1615" y="346.1" width="2" height="20.1" fill="#ee2a3d"/><rect x="1611.2" y="350" width="9.6" height="2" fill="#ee2a3d"/><rect x="1628.8" y="336.9" width="2" height="26.4" fill="#ee2a3d"/><rect x="1625" y="351" width="9.6" height="11.8" fill="#ee2a3d"/><rect x="1642.6" y="345.1" width="2" height="38.5" fill="#ee2a3d"/><rect x="1638.8" y="362.4" width="9.6" height="5.3" fill="#ee2a3d"/><rect x="1656.4" y="338.7" width="2" height="30.5" fill="#068f73"/><rect x="1652.6" y="339.2" width="9.6" height="28.5" fill="#068f73"/><rect x="1670.2" y="333.2" width="2" height="19.3" fill="#ee2a3d"/><rect x="1666.4" y="339.2" width="9.6" height="5.4" fill="#ee2a3d"/><rect x="1684" y="339.2" width="2" height="19.9" fill="#ee2a3d"/><rect x="1680.2" y="344.3" width="9.6" height="13.7" fill="#ee2a3d"/><rect x="1697.8" y="333.2" width="2" height="28.2" fill="#068f73"/><rect x="1694" y="352.5" width="9.6" height="5.5" fill="#068f73"/><rect x="1711.6" y="348" width="2" height="9.7" fill="#ee2a3d"/><rect x="1707.8" y="351" width="9.6" height="2" fill="#ee2a3d"/><rect x="1725.4" y="321.4" width="2" height="32.1" fill="#068f73"/><rect x="1721.6" y="335.2" width="9.6" height="18.3" fill="#068f73"/><rect x="1739.2" y="303.6" width="2" height="34.8" fill="#068f73"/><rect x="1735.4" y="310" width="9.6" height="25.5" fill="#068f73"/><rect x="1753" y="292.2" width="2" height="27.3" fill="#ee2a3d"/><rect x="1749.2" y="310.3" width="9.6" height="6.7" fill="#ee2a3d"/><rect x="1766.8" y="295.2" width="2" height="23.2" fill="#068f73"/><rect x="1763" y="306.1" width="9.6" height="10.9" fill="#068f73"/><rect x="1780.6" y="289.3" width="2" height="25.4" fill="#068f73"/><rect x="1776.8" y="291" width="9.6" height="15.6" fill="#068f73"/><rect x="1794.3" y="265.1" width="2" height="31.6" fill="#068f73"/><rect x="1790.5" y="274.5" width="9.6" height="17.3" fill="#068f73"/><rect x="1808.1" y="252.3" width="2" height="25.4" fill="#068f73"/><rect x="1804.3" y="270" width="9.6" height="4.5" fill="#068f73"/><rect x="1821.9" y="268.3" width="2" height="30.3" fill="#ee2a3d"/><rect x="1818.1" y="270" width="9.6" height="24.6" fill="#ee2a3d"/><rect x="1835.7" y="284.1" width="2" height="30.6" fill="#ee2a3d"/><rect x="1831.9" y="293.9" width="9.6" height="9.9" fill="#ee2a3d"/><rect x="1849.5" y="286.1" width="2" height="25.6" fill="#068f73"/><rect x="1845.7" y="292.4" width="9.6" height="11.4" fill="#068f73"/><rect x="1863.3" y="273.2" width="2" height="33.6" fill="#068f73"/><rect x="1859.5" y="279.2" width="9.6" height="13.4" fill="#068f73"/><rect x="1877.1" y="263.9" width="2" height="22.8" fill="#ee2a3d"/><rect x="1873.3" y="279.2" width="9.6" height="3.6" fill="#ee2a3d"/><rect x="1890.9" y="277.1" width="2" height="30.7" fill="#ee2a3d"/><rect x="1887.1" y="282.1" width="9.6" height="23.7" fill="#ee2a3d"/><rect x="1904.7" y="300.3" width="2" height="10.8" fill="#ee2a3d"/><rect x="1900.9" y="305.1" width="9.6" height="4.6" fill="#ee2a3d"/><rect x="1918.5" y="297.9" width="2" height="16.8" fill="#ee2a3d"/><rect x="1914.7" y="308.2" width="9.6" height="2" fill="#ee2a3d"/><rect x="1932.3" y="309.1" width="2" height="74.6" fill="#ee2a3d"/><rect x="1928.5" y="310.4" width="9.6" height="32.2" fill="#ee2a3d"/><rect x="1946.1" y="330.1" width="2" height="25.7" fill="#ee2a3d"/><rect x="1942.3" y="342" width="9.6" height="7.9" fill="#ee2a3d"/><rect x="1959.9" y="303.2" width="2" height="55.9" fill="#068f73"/><rect x="1956.1" y="322.2" width="9.6" height="27.3" fill="#068f73"/><rect x="1973.7" y="317" width="2" height="58.5" fill="#ee2a3d"/><rect x="1969.9" y="322.2" width="9.6" height="49.4" fill="#ee2a3d"/><rect x="1987.5" y="353.2" width="2" height="29.6" fill="#068f73"/><rect x="1983.7" y="360" width="9.6" height="11.6" fill="#068f73"/><rect x="2001.3" y="348.2" width="2" height="17.5" fill="#068f73"/><rect x="1997.5" y="355.1" width="9.6" height="5.7" fill="#068f73"/><rect x="2015.1" y="338" width="2" height="26.7" fill="#068f73"/><rect x="2011.3" y="338" width="9.6" height="17.8" fill="#068f73"/><rect x="2028.9" y="320.9" width="2" height="22.8" fill="#068f73"/><rect x="2025.1" y="334.1" width="9.6" height="4.8" fill="#068f73"/><rect x="2042.7" y="327.1" width="2" height="24.7" fill="#ee2a3d"/><rect x="2038.9" y="334.1" width="9.6" height="9.6" fill="#ee2a3d"/><rect x="2056.5" y="312.1" width="2" height="39.7" fill="#068f73"/><rect x="2052.7" y="316.3" width="9.6" height="27.4" fill="#068f73"/><rect x="2070.2" y="274.9" width="2" height="42.7" fill="#068f73"/><rect x="2066.4" y="291.1" width="9.6" height="25.9" fill="#068f73"/><rect x="2084" y="276.2" width="2" height="24.6" fill="#068f73"/><rect x="2080.2" y="290" width="9.6" height="2" fill="#068f73"/><rect x="2097.8" y="288" width="2" height="29.6" fill="#ee2a3d"/><rect x="2094" y="291.1" width="9.6" height="19.3" fill="#ee2a3d"/><rect x="2111.6" y="283" width="2" height="32.5" fill="#068f73"/><rect x="2107.8" y="309.2" width="9.6" height="2" fill="#068f73"/><rect x="2125.4" y="287.9" width="2" height="25.7" fill="#068f73"/><rect x="2121.6" y="305.3" width="9.6" height="5.3" fill="#068f73"/><rect x="2139.2" y="302.7" width="2" height="40.1" fill="#ee2a3d"/><rect x="2135.4" y="305.3" width="9.6" height="37.5" fill="#ee2a3d"/><rect x="2153" y="322.4" width="2" height="25.1" fill="#068f73"/><rect x="2149.2" y="334.3" width="9.6" height="8.5" fill="#068f73"/><rect x="2166.8" y="333.7" width="2" height="29.6" fill="#ee2a3d"/><rect x="2163" y="334.3" width="9.6" height="21.1" fill="#ee2a3d"/><rect x="2180.6" y="346.7" width="2" height="425.3" fill="#ee2a3d"/><rect x="2176.8" y="355" width="9.6" height="117.5" fill="#ee2a3d"/><rect x="2194.4" y="469.5" width="2" height="21.3" fill="#068f73"/><rect x="2190.6" y="470.5" width="9.6" height="2" fill="#068f73"/><rect x="2208.2" y="414.2" width="2" height="72.7" fill="#068f73"/><rect x="2204.4" y="429" width="9.6" height="40.9" fill="#068f73"/><rect x="2222" y="397.4" width="2" height="35" fill="#068f73"/><rect x="2218.2" y="408.3" width="9.6" height="21.7" fill="#068f73"/><rect x="2235.8" y="404.4" width="2" height="62.1" fill="#ee2a3d"/><rect x="2232" y="408.3" width="9.6" height="28.6" fill="#ee2a3d"/><rect x="2249.6" y="424.1" width="2" height="45.8" fill="#ee2a3d"/><rect x="2245.8" y="436.3" width="9.6" height="25.3" fill="#ee2a3d"/><rect x="2263.4" y="446.2" width="2" height="48" fill="#ee2a3d"/><rect x="2259.6" y="461.2" width="9.6" height="22.1" fill="#ee2a3d"/><rect x="2277.2" y="464" width="2" height="55" fill="#ee2a3d"/><rect x="2273.4" y="483.3" width="9.6" height="9.5" fill="#ee2a3d"/><rect x="2291" y="465.9" width="2" height="27.3" fill="#068f73"/><rect x="2287.2" y="475.4" width="9.6" height="17.4" fill="#068f73"/><rect x="2304.8" y="459.2" width="2" height="26.5" fill="#068f73"/><rect x="2301" y="466.5" width="9.6" height="8.9" fill="#068f73"/><rect x="2318.6" y="423.1" width="2" height="52.3" fill="#068f73"/><rect x="2314.8" y="437.9" width="9.6" height="28.6" fill="#068f73"/><rect x="2332.4" y="428" width="2" height="34.6" fill="#ee2a3d"/><rect x="2328.6" y="437.9" width="9.6" height="20.7" fill="#ee2a3d"/><rect x="2346.2" y="454.1" width="2" height="29.2" fill="#ee2a3d"/><rect x="2342.3" y="458.2" width="9.6" height="15.2" fill="#ee2a3d"/><rect x="2359.9" y="457.3" width="2" height="16.1" fill="#068f73"/><rect x="2356.1" y="465.2" width="9.6" height="8.2" fill="#068f73"/><rect x="2373.7" y="432" width="2" height="34.5" fill="#068f73"/><rect x="2369.9" y="434" width="9.6" height="31.6" fill="#068f73"/><rect x="2387.5" y="395.5" width="2" height="39.5" fill="#068f73"/><rect x="2383.7" y="411.3" width="9.6" height="23.7" fill="#068f73"/><rect x="2401.3" y="392.5" width="2" height="18.8" fill="#068f73"/><rect x="2397.5" y="397.4" width="9.6" height="13.9" fill="#068f73"/><rect x="2415.1" y="391.5" width="2" height="11.9" fill="#068f73"/><rect x="2411.3" y="392.5" width="9.6" height="5.9" fill="#068f73"/></g>
<line x1="0" y1="392" x2="2416" y2="392" stroke="#2a5a4c" stroke-width="2" stroke-dasharray="2 4"/>
<circle cx="2416" cy="818" r="19.2" fill="#fff" stroke="#8e24aa" stroke-width="3"/>
<path d="M2416 813 L2406 820 L2416 820 Z M2416 823 L2409 831 L2412 833 L2416 828 Z" fill="#8e24aa"/>
</g>
<line x1="0" y1="843.5" x2="2560" y2="843.5" stroke="#e0e3eb" stroke-width="2"/>
<rect x="0" y="991" width="2416" height="226" fill="#f0ecf7"/>
<line x1="0" y1="935" x2="2416" y2="935" stroke="#ebebef" stroke-width="2"/>
<line x1="0" y1="1046.5" x2="2416" y2="1046.5" stroke="#dedae4" stroke-width="2"/>
<line x1="0" y1="1158.5" x2="2416" y2="1158.5" stroke="#dedae4" stroke-width="2"/>
<line x1="374.5" y1="845" x2="374.5" y2="1216" stroke="#e3e0e8" stroke-opacity="0.7" stroke-width="1.6"/>
<line x1="788.3" y1="845" x2="788.3" y2="1216" stroke="#e3e0e8" stroke-opacity="0.7" stroke-width="1.6"/>
<line x1="1216" y1="845" x2="1216" y2="1216" stroke="#e3e0e8" stroke-opacity="0.7" stroke-width="1.6"/>
<line x1="1643.6" y1="845" x2="1643.6" y2="1216" stroke="#e3e0e8" stroke-opacity="0.7" stroke-width="1.6"/>
<line x1="2057.5" y1="845" x2="2057.5" y2="1216" stroke="#e3e0e8" stroke-opacity="0.7" stroke-width="1.6"/>
<line x1="0" y1="991" x2="2416" y2="991" stroke="#5c5d63" stroke-width="2" stroke-dasharray="10 12"/>
<line x1="0" y1="1103" x2="2416" y2="1103" stroke="#787b86" stroke-opacity="0.42" stroke-width="2" stroke-dasharray="10 12"/>
<line x1="0" y1="1215" x2="2416" y2="1215" stroke="#5c5d63" stroke-width="2" stroke-dasharray="10 12"/>
<defs><linearGradient id="ob" x1="0" y1="823" x2="0" y2="991" gradientUnits="userSpaceOnUse"><stop offset="0" stop-color="#4caf50" stop-opacity="0.75"/><stop offset="1" stop-color="#4caf50" stop-opacity="0"/></linearGradient><clipPath id="obc"><rect x="0" y="0" width="2416" height="991"/></clipPath><clipPath id="rc"><rect x="0" y="845" width="2416" height="371"/></clipPath></defs>
<polygon points="2,1125.4 15.8,1110.9 29.6,1127.8 43.4,1037.8 57.2,1033.1 71,997.3 84.8,1048.6 98.6,1004.6 112.4,996 126.2,1011.7 139.9,1075.9 153.7,1075.9 167.5,1086.3 181.3,1063.4 195.1,1082.2 208.9,1091.4 222.7,1077.6 236.5,1065.3 250.3,1115.6 264.1,1104.2 277.9,1100.3 291.7,1111 305.5,1106.8 319.3,1125 333.1,1135.8 346.9,1170.5 360.7,1153.3 374.5,1148 388.3,1142.7 402.1,1119.6 415.9,1136.7 429.6,1173.7 443.4,1142 457.2,1133.7 471,1096.6 484.8,1074.9 498.6,1083 512.4,1098.8 526.2,1129.6 540,1144.7 553.8,1146.9 567.6,1134.7 581.4,1100.7 595.2,1133.7 609,1127 622.8,1128.7 636.6,1147.3 650.4,1169.3 664.2,1184 678,1115.1 691.8,1101.3 705.5,1101.3 719.3,1136.4 733.1,1118.5 746.9,1101 760.7,1091.6 774.5,1078.7 788.3,1109 802.1,1082.7 815.9,1072.6 829.7,1090.9 843.5,1092 857.3,1069.5 871.1,1070.7 884.9,1052.2 898.7,1017.8 912.5,979.1 926.3,945.1 940.1,943.6 953.9,930.4 967.6,915.8 981.4,938.1 995.2,923.6 1009,889.6 1022.8,914.7 1036.6,914.2 1050.4,911.9 1064.2,904.4 1078,904.1 1091.8,1032.7 1105.6,1043.5 1119.4,1043.5 1133.2,1039 1147,1025.7 1160.8,1061.7 1174.6,1057.8 1188.4,1069.9 1202.2,1092.2 1216,1108.1 1229.8,1153.5 1243.5,1106.5 1257.3,1080 1271.1,1104.9 1284.9,1098.4 1298.7,1037.8 1312.5,1046.6 1326.3,1060.9 1340.1,1070.8 1353.9,1085.1 1367.7,1057.4 1381.5,1055 1395.3,1103.8 1409.1,1103.5 1422.9,1097.3 1436.7,1101.5 1450.5,1107.9 1464.3,1154.6 1478.1,1128.5 1491.9,1149.9 1505.7,1096.4 1519.5,1102.4 1533.2,1107.7 1547,1142.6 1560.8,1106.8 1574.6,1115.7 1588.4,1115.7 1602.2,1147.1 1616,1147.1 1629.8,1155.8 1643.6,1159.6 1657.4,1127.7 1671.2,1132.5 1685,1144.6 1698.8,1137.9 1712.6,1137.9 1726.4,1115.6 1740.2,1086.3 1754,1094.9 1767.8,1082.3 1781.6,1065.5 1795.3,1048.3 1809.1,1043.7 1822.9,1080.1 1836.7,1092.6 1850.5,1078.5 1864.3,1062.9 1878.1,1068.5 1891.9,1102.6 1905.7,1108.1 1919.5,1107.8 1933.3,1151.9 1947.1,1160.3 1960.9,1116.4 1974.7,1169.8 1988.5,1153 2002.3,1146 2016.1,1121.9 2029.9,1116.5 2043.7,1128.6 2057.5,1091.1 2071.2,1062 2085,1060.8 2098.8,1090.5 2112.6,1088.9 2126.4,1083.6 2140.2,1134.7 2154,1122.2 2167.8,1147.4 2181.6,1233.6 2195.4,1230.9 2209.2,1177.9 2223,1154.7 2236.8,1174.9 2250.6,1190.7 2264.4,1203.6 2278.2,1209.1 2292,1187.1 2305.8,1176 2319.6,1142.3 2333.4,1159 2347.2,1170.3 2360.9,1160.2 2374.7,1124 2388.5,1100.7 2402.3,1087.2 2416.1,1082.4 2416.1,991 0,991" fill="url(#ob)" clip-path="url(#obc)"/>
<g clip-path="url(#rc)"><polyline points="2,1082.6 15.8,1086.1 29.6,1089.5 43.4,1086.3 57.2,1082.6 71,1077.7 84.8,1075.3 98.6,1072.4 112.4,1067.6 126.2,1062.8 139.9,1061.8 153.7,1060.9 167.5,1060.1 181.3,1056.8 195.1,1053.7 208.9,1052.3 222.7,1048.7 236.5,1050.7 250.3,1056.6 264.1,1064.2 277.9,1067.9 291.7,1075.5 305.5,1083.4 319.3,1091.5 333.1,1095.8 346.9,1102.5 360.7,1107.3 374.5,1113.4 388.3,1117.7 402.1,1119.7 415.9,1123.9 429.6,1131.7 443.4,1133.5 457.2,1135.7 471,1135.4 484.8,1132.8 498.6,1131.1 512.4,1129.2 526.2,1128.8 540,1126.9 553.8,1126.5 567.6,1125.5 581.4,1122.5 595.2,1123.5 609,1122.9 622.8,1119.6 636.6,1120 650.4,1122.6 664.2,1128.8 678,1131.7 691.8,1133 705.5,1133.2 719.3,1133.7 733.1,1131.8 746.9,1128.5 760.7,1125.4 774.5,1123.9 788.3,1122.1 802.1,1118.9 815.9,1114.9 829.7,1110.9 843.5,1105.4 857.3,1097.2 871.1,1094 884.9,1090.5 898.7,1084.5 912.5,1073.3 926.3,1060.9 940.1,1049.7 953.9,1038.2 967.6,1026.5 981.4,1014.3 995.2,1003 1009,989.9 1022.8,977.3 1036.6,964.6 1050.4,953.3 1064.2,941.5 1078,930.9 1091.8,931.9 1105.6,936.5 1119.4,943.6 1133.2,950.4 1147,957.2 1160.8,967.6 1174.6,976.2 1188.4,986.6 1202.2,1001.1 1216,1014.9 1229.8,1032 1243.5,1045.9 1257.3,1058.4 1271.1,1072.8 1284.9,1077.5 1298.7,1077.1 1312.5,1077.3 1326.3,1078.9 1340.1,1082.1 1353.9,1083.7 1367.7,1083.7 1381.5,1082.7 1395.3,1083.5 1409.1,1083.2 1422.9,1079.1 1436.7,1078.8 1450.5,1080.8 1464.3,1084.3 1478.1,1086.5 1491.9,1094.5 1505.7,1098 1519.5,1101 1533.2,1103.6 1547,1107.8 1560.8,1111.3 1574.6,1115.6 1588.4,1116.5 1602.2,1119.6 1616,1123.1 1629.8,1127 1643.6,1130.7 1657.4,1128.8 1671.2,1129.1 1685,1128.7 1698.8,1131.7 1712.6,1134.2 1726.4,1134.8 1740.2,1130.7 1754,1129.9 1767.8,1127.5 1781.6,1123.9 1795.3,1116.9 1809.1,1109.5 1822.9,1104.1 1836.7,1099.3 1850.5,1095.8 1864.3,1090.8 1878.1,1085.4 1891.9,1082.8 1905.7,1080.7 1919.5,1080.2 1933.3,1084.8 1947.1,1089.5 1960.9,1091.9 1974.7,1099.4 1988.5,1106.9 2002.3,1114.2 2016.1,1117.2 2029.9,1118.9 2043.7,1122.4 2057.5,1124.5 2071.2,1124 2085,1121 2098.8,1119.8 2112.6,1118.4 2126.4,1113.5 2140.2,1111.7 2154,1112.1 2167.8,1110.5 2181.6,1116.3 2195.4,1122.3 2209.2,1126.3 2223,1129.1 2236.8,1132.4 2250.6,1139.5 2264.4,1149.6 2278.2,1160.2 2292,1167.1 2305.8,1173.3 2319.6,1177.5 2333.4,1179.3 2347.2,1182.7 2360.9,1183.6 2374.7,1175.8 2388.5,1166.5 2402.3,1160 2416.1,1154.8" fill="none" stroke="#f0d040" stroke-width="2.2" stroke-linejoin="round"/>
<polyline points="2,1125.4 15.8,1110.9 29.6,1127.8 43.4,1037.8 57.2,1033.1 71,997.3 84.8,1048.6 98.6,1004.6 112.4,996 126.2,1011.7 139.9,1075.9 153.7,1075.9 167.5,1086.3 181.3,1063.4 195.1,1082.2 208.9,1091.4 222.7,1077.6 236.5,1065.3 250.3,1115.6 264.1,1104.2 277.9,1100.3 291.7,1111 305.5,1106.8 319.3,1125 333.1,1135.8 346.9,1170.5 360.7,1153.3 374.5,1148 388.3,1142.7 402.1,1119.6 415.9,1136.7 429.6,1173.7 443.4,1142 457.2,1133.7 471,1096.6 484.8,1074.9 498.6,1083 512.4,1098.8 526.2,1129.6 540,1144.7 553.8,1146.9 567.6,1134.7 581.4,1100.7 595.2,1133.7 609,1127 622.8,1128.7 636.6,1147.3 650.4,1169.3 664.2,1184 678,1115.1 691.8,1101.3 705.5,1101.3 719.3,1136.4 733.1,1118.5 746.9,1101 760.7,1091.6 774.5,1078.7 788.3,1109 802.1,1082.7 815.9,1072.6 829.7,1090.9 843.5,1092 857.3,1069.5 871.1,1070.7 884.9,1052.2 898.7,1017.8 912.5,979.1 926.3,945.1 940.1,943.6 953.9,930.4 967.6,915.8 981.4,938.1 995.2,923.6 1009,889.6 1022.8,914.7 1036.6,914.2 1050.4,911.9 1064.2,904.4 1078,904.1 1091.8,1032.7 1105.6,1043.5 1119.4,1043.5 1133.2,1039 1147,1025.7 1160.8,1061.7 1174.6,1057.8 1188.4,1069.9 1202.2,1092.2 1216,1108.1 1229.8,1153.5 1243.5,1106.5 1257.3,1080 1271.1,1104.9 1284.9,1098.4 1298.7,1037.8 1312.5,1046.6 1326.3,1060.9 1340.1,1070.8 1353.9,1085.1 1367.7,1057.4 1381.5,1055 1395.3,1103.8 1409.1,1103.5 1422.9,1097.3 1436.7,1101.5 1450.5,1107.9 1464.3,1154.6 1478.1,1128.5 1491.9,1149.9 1505.7,1096.4 1519.5,1102.4 1533.2,1107.7 1547,1142.6 1560.8,1106.8 1574.6,1115.7 1588.4,1115.7 1602.2,1147.1 1616,1147.1 1629.8,1155.8 1643.6,1159.6 1657.4,1127.7 1671.2,1132.5 1685,1144.6 1698.8,1137.9 1712.6,1137.9 1726.4,1115.6 1740.2,1086.3 1754,1094.9 1767.8,1082.3 1781.6,1065.5 1795.3,1048.3 1809.1,1043.7 1822.9,1080.1 1836.7,1092.6 1850.5,1078.5 1864.3,1062.9 1878.1,1068.5 1891.9,1102.6 1905.7,1108.1 1919.5,1107.8 1933.3,1151.9 1947.1,1160.3 1960.9,1116.4 1974.7,1169.8 1988.5,1153 2002.3,1146 2016.1,1121.9 2029.9,1116.5 2043.7,1128.6 2057.5,1091.1 2071.2,1062 2085,1060.8 2098.8,1090.5 2112.6,1088.9 2126.4,1083.6 2140.2,1134.7 2154,1122.2 2167.8,1147.4 2181.6,1233.6 2195.4,1230.9 2209.2,1177.9 2223,1154.7 2236.8,1174.9 2250.6,1190.7 2264.4,1203.6 2278.2,1209.1 2292,1187.1 2305.8,1176 2319.6,1142.3 2333.4,1159 2347.2,1170.3 2360.9,1160.2 2374.7,1124 2388.5,1100.7 2402.3,1087.2 2416.1,1082.4" fill="none" stroke="#5f47ad" stroke-width="2" stroke-linejoin="round"/></g>
<!-- legend -->
<rect x="14" y="2" width="1266" height="42" fill="#fff" fill-opacity="0.85"/>
<g>
<circle cx="42.4" cy="15.4" r="11.6" fill="#0a8f8f"/>
<path d="M36.5 11.5 L44.5 11.5 L50 15.8 L44.5 21.5 L36.5 21.5 Z" fill="#fff"/><path d="M39.5 13.2 h5.5 M42.2 13.2 v4.8" stroke="#0a8f8f" stroke-width="1.8"/>
<circle cx="30" cy="28" r="13.6" fill="#fff"/>
<circle cx="30" cy="28" r="11.9" fill="#000"/>
<path d="M24.3 21.3 L28 25.3 Q30 27.9 32 25.3 L35.7 21.3 M24.3 34.7 L28 30.9 Q30 28.4 32 30.9 L35.7 34.7" stroke="#fff" stroke-width="1.7" fill="none"/>
</g>
<text x="63" y="33.8" font-size="30.5" letter-spacing="0.35" fill="#131722">XRP / TetherUS · 1D · Binance</text>
<circle cx="524" cy="22" r="17.5" fill="#089981" fill-opacity="0.15"/>
<circle cx="524" cy="22" r="7.5" fill="#089981"/>
<g font-size="25" letter-spacing="1.9">
<text x="559" y="32" fill="#131722">O</text><text x="582" y="32" fill="#089981">2.6460</text>
<text x="682" y="32" fill="#131722">H</text><text x="704" y="32" fill="#089981">2.6749</text>
<text x="804.5" y="32" fill="#131722">L</text><text x="822" y="32" fill="#089981">2.6222</text>
<text x="920" y="32" fill="#131722">C</text><text x="942" y="32" fill="#089981">2.6644</text>
<text x="1041" y="32" fill="#089981">+0.0183 (+0.69%)</text>
</g>
<rect x="17.5" y="55.5" width="128.5" height="65" rx="6" fill="#fff" stroke="#f23645" stroke-width="2"/>
<text x="81.5" y="83" font-size="24" font-weight="bold" letter-spacing="2.0" fill="#f23645" text-anchor="middle">2.6637</text>
<text x="81" y="110" font-size="21.5" letter-spacing="0.6" fill="#f23645" text-anchor="middle">SELL</text>
<text x="163" y="95.5" font-size="21" letter-spacing="1.1" fill="#131722">0.0001</text>
<rect x="250" y="55.5" width="128.5" height="65" rx="6" fill="#fff" stroke="#2962ff" stroke-width="2"/>
<text x="315" y="83" font-size="24" font-weight="bold" letter-spacing="2.0" fill="#2962ff" text-anchor="middle">2.6638</text>
<text x="314.5" y="110" font-size="21.5" letter-spacing="0.6" fill="#2962ff" text-anchor="middle">BUY</text>
<g font-size="25">
<rect x="8" y="140" width="248" height="29" fill="#fff" fill-opacity="0.9"/><text x="19" y="164" letter-spacing="0.3" fill="#131722">Vol · XRP</text><text x="146" y="164" letter-spacing="1.8" fill="#22ab94">24.94</text><text x="220.5" y="164" font-size="26.5" fill="#22ab94">M</text>
<text x="19" y="212" fill="#131722">BB</text>
<text x="58.5" y="212" letter-spacing="1.4" fill="#555a66">20 SMA close 2</text>
<text x="267.5" y="212" letter-spacing="1.9" fill="#2962ff">2.4974</text>
<text x="368.5" y="212" letter-spacing="1.9" fill="#f23645">2.8082</text>
<text x="469.5" y="212" letter-spacing="1.9" fill="#089981">2.1866</text>
<text x="17.5" y="887" fill="#131722">RSI</text>
<text x="65.5" y="887" letter-spacing="1.3" fill="#555a66">14 close</text>
<text x="185.3" y="887" letter-spacing="2.0" fill="#7e57c2">53.68</text>
<text x="269.3" y="887" letter-spacing="2.0" fill="#fdd835">40.61</text>
</g>
<rect x="17.5" y="233.5" width="55" height="39" rx="4" fill="#fff" stroke="#e0e3eb" stroke-width="2"/>
<path d="M38 258 L45 251 L52 258" stroke="#131722" stroke-width="2.4" fill="none"/>
<!-- price axis -->
<g font-size="23" letter-spacing="2.2" fill="#131722">
<text x="2435" y="40.5">4.0000</text>
<text x="2435" y="175.2">3.5000</text>
<text x="2435" y="309.7">3.0000</text>
<text x="2435" y="579.2">2.0000</text>
<text x="2435" y="714.2">1.5000</text>
<text x="2435" y="943.5">80.00</text>
<text x="2435" y="1055">60.00</text>
</g>
<g font-size="23" letter-spacing="2.2">
<path d="M2418 337.5 H2524 a4 4 0 0 1 4 4 V366 a4 4 0 0 1 -4 4 H2418 Z" fill="#f23645"/>
<text x="2436" y="362" fill="#fff">2.8082</text>
<path d="M2418 375.5 H2546 a4 4 0 0 1 4 4 V432 a4 4 0 0 1 -4 4 H2418 Z" fill="#089981"/>
<text x="2436" y="400.2" fill="#fff">2.6644</text>
<text x="2436" y="427.8" letter-spacing="1.6" fill="#fff" fill-opacity="0.8">18:34:05</text>
<path d="M2418 438 H2524 a4 4 0 0 1 4 4 V466.5 a4 4 0 0 1 -4 4 H2418 Z" fill="#2962ff"/>
<text x="2436" y="462.5" fill="#fff">2.4974</text>
<path d="M2418 504 H2524 a4 4 0 0 1 4 4 V533.5 a4 4 0 0 1 -4 4 H2418 Z" fill="#089981"/>
<text x="2436" y="529" fill="#fff">2.1866</text>
<path d="M2418 809.5 H2532 a4 4 0 0 1 4 4 V842.5 H2418 Z" fill="#22a08e"/>
<text x="2436" y="834" letter-spacing="2.0" fill="#fff">24.94</text><text x="2506.5" y="834" font-size="24" fill="#fff">M</text>
<path d="M2418 1066 H2508 a4 4 0 0 1 4 4 V1095 a4 4 0 0 1 -4 4 H2418 Z" fill="#7e57c2"/>
<text x="2434.5" y="1090.7" letter-spacing="2.1" fill="#fff">53.68</text>
<path d="M2418 1139 H2508 a4 4 0 0 1 4 4 V1168.3 a4 4 0 0 1 -4 4 H2418 Z" fill="#fdd835"/>
<text x="2434.5" y="1164" letter-spacing="2.1" fill="#131722">40.61</text>
</g>
<!-- pane buttons -->
<g fill="#fff" stroke="#e0e3eb" stroke-width="1.6">
<rect x="2193" y="854.5" width="46" height="45" rx="6"/>
<rect x="2249" y="854.5" width="46" height="45" rx="6"/>
<rect x="2305" y="854.5" width="46" height="45" rx="6"/>
<rect x="2361" y="854.5" width="46" height="45" rx="6"/>
</g>
<g stroke="#131722" stroke-width="2.2" fill="none" stroke-linecap="round" stroke-linejoin="round">
<path d="M2216 887 V867 M2209 874 L2216 867 L2223 874"/>
<path d="M2264 868 H2280 M2269 868 V864.5 H2275 V868 M2265.5 868 L2267.5 887 H2276.5 L2278.5 868"/>
<path d="M2322 866 L2328 872 L2334 866 M2322 888 L2328 882 L2334 888"/>
<path d="M2374 873 V869 a3 3 0 0 1 3 -3 H2391 a3 3 0 0 1 3 3 V873 M2374 881 V885 a3 3 0 0 0 3 3 H2391 a3 3 0 0 0 3 -3 V881"/>
</g>
<!-- bottom logo fragment -->
<g fill="#000" stroke="#fff" stroke-width="1.5">
<rect x="23.5" y="1213.5" width="27" height="4"/>
<rect x="55" y="1213.8" width="12" height="4" rx="2"/>
<rect x="70" y="1214" width="6" height="4"/>
<rect x="82" y="1213.5" width="39" height="4"/>
<rect x="173" y="1213.5" width="20" height="4" rx="2"/>
<rect x="240" y="1213.8" width="13" height="4"/>
<rect x="267" y="1213.5" width="17" height="4" rx="2"/>
</g>
</svg>
</body></html>
